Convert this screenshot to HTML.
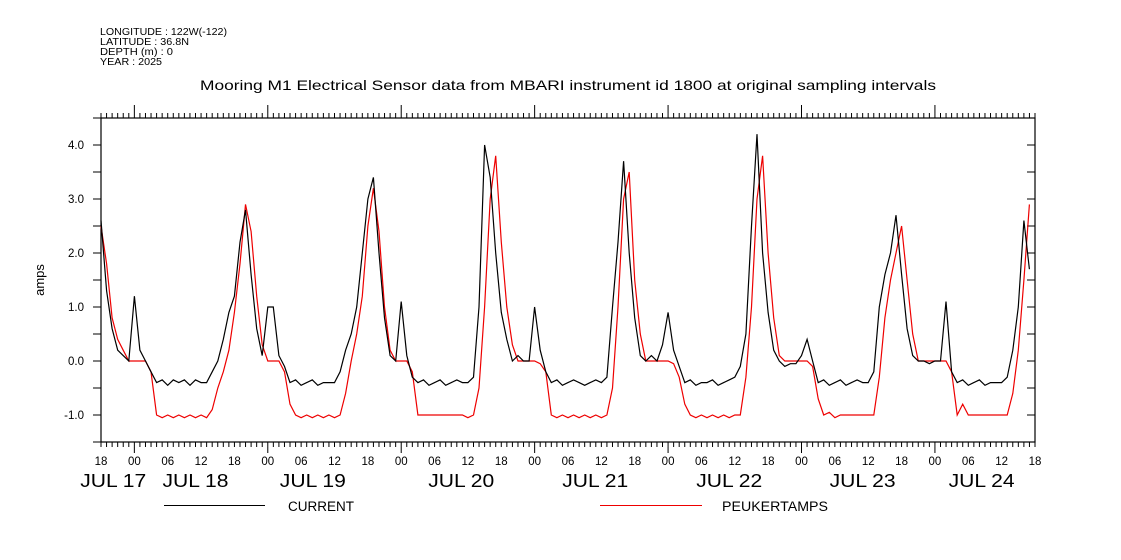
<!DOCTYPE html>
<html><head><meta charset="utf-8"><style>
html,body{margin:0;padding:0;background:#fff;}
svg{display:block;font-family:"Liberation Sans","DejaVu Sans",sans-serif;}
</style></head><body>
<svg id="chart" width="1121" height="560" viewBox="0 0 1121 560" xmlns="http://www.w3.org/2000/svg">
<rect width="1121" height="560" fill="#fff"/>
<g font-size="10" fill="#000">
<text x="100" y="35" textLength="127" lengthAdjust="spacingAndGlyphs">LONGITUDE : 122W(-122)</text>
<text x="100" y="45" textLength="89" lengthAdjust="spacingAndGlyphs">LATITUDE : 36.8N</text>
<text x="100" y="55" textLength="73" lengthAdjust="spacingAndGlyphs">DEPTH (m) : 0</text>
<text x="100" y="65" textLength="62" lengthAdjust="spacingAndGlyphs">YEAR : 2025</text>
</g>
<text x="200" y="90" font-size="14" textLength="736" lengthAdjust="spacingAndGlyphs" fill="#000">Mooring M1 Electrical Sensor data from MBARI instrument id 1800 at original sampling intervals</text>
<text transform="translate(44,280) rotate(-90)" font-size="13" text-anchor="middle" fill="#000">amps</text>
<g id="axes"></g>
<g id="series"></g>
<g>
<line x1="164" y1="505.5" x2="265" y2="505.5" stroke="#000" stroke-width="1"/>
<text x="288" y="511" font-size="13.5" textLength="66" lengthAdjust="spacingAndGlyphs" fill="#000">CURRENT</text>
<line x1="600" y1="505.5" x2="702" y2="505.5" stroke="#e00" stroke-width="1"/>
<text x="722" y="511" font-size="13.5" textLength="106" lengthAdjust="spacingAndGlyphs" fill="#000">PEUKERTAMPS</text>
</g>
</svg>
<script>
// hours since JUL 17 18:00
const current = [
2.6,1.3,0.6,0.2,0.1,0.0,1.2,0.2,0.0,-0.2,-0.4,-0.35,-0.45,-0.35,-0.4,-0.35,-0.45,-0.35,-0.4,-0.4,-0.2,0.0,0.4,0.9,
1.2,2.2,2.8,1.6,0.6,0.1,1.0,1.0,0.1,-0.1,-0.4,-0.35,-0.45,-0.4,-0.35,-0.45,-0.4,-0.4,-0.4,-0.2,0.2,0.5,1.0,2.0,
3.0,3.4,2.0,0.8,0.1,0.0,1.1,0.1,-0.3,-0.4,-0.35,-0.45,-0.4,-0.35,-0.45,-0.4,-0.35,-0.4,-0.4,-0.3,1.0,4.0,3.4,2.0,
0.9,0.4,0.0,0.1,0.0,0.0,1.0,0.2,-0.2,-0.4,-0.35,-0.45,-0.4,-0.35,-0.4,-0.45,-0.4,-0.35,-0.4,-0.3,1.0,2.2,3.7,2.0,
0.8,0.1,0.0,0.1,0.0,0.3,0.9,0.2,-0.1,-0.4,-0.35,-0.45,-0.4,-0.4,-0.35,-0.45,-0.4,-0.35,-0.3,-0.1,0.5,2.5,4.2,2.0,
0.9,0.2,0.0,-0.1,-0.05,-0.05,0.1,0.4,0.0,-0.4,-0.35,-0.45,-0.4,-0.35,-0.45,-0.4,-0.35,-0.4,-0.4,-0.2,1.0,1.6,2.0,2.7,
1.6,0.6,0.1,0.0,0.0,-0.05,0.0,0.0,1.1,-0.2,-0.4,-0.35,-0.45,-0.4,-0.35,-0.45,-0.4,-0.4,-0.4,-0.3,0.2,1.0,2.6,1.7
];
const peukert = [
2.5,1.8,0.8,0.4,0.2,0.0,0.0,0.0,0.0,-0.2,-1.0,-1.05,-1.0,-1.05,-1.0,-1.05,-1.0,-1.05,-1.0,-1.05,-0.9,-0.5,-0.2,0.2,
0.9,1.8,2.9,2.4,1.2,0.3,0.0,0.0,0.0,-0.2,-0.8,-1.0,-1.05,-1.0,-1.05,-1.0,-1.05,-1.0,-1.05,-1.0,-0.6,0.0,0.5,1.2,
2.5,3.2,2.4,1.0,0.2,0.0,0.0,0.0,-0.2,-1.0,-1.0,-1.0,-1.0,-1.0,-1.0,-1.0,-1.0,-1.0,-1.05,-1.0,-0.5,1.0,3.0,3.8,
2.2,1.0,0.3,0.0,0.0,0.0,0.0,-0.05,-0.2,-1.0,-1.05,-1.0,-1.05,-1.0,-1.05,-1.0,-1.05,-1.0,-1.05,-1.0,-0.5,1.0,3.0,3.5,
1.5,0.5,0.0,0.0,0.0,0.0,0.0,-0.05,-0.3,-0.8,-1.0,-1.05,-1.0,-1.05,-1.0,-1.05,-1.0,-1.05,-1.0,-1.0,-0.3,1.0,3.0,3.8,
2.0,0.8,0.1,0.0,0.0,0.0,0.0,0.0,-0.1,-0.7,-1.0,-0.95,-1.05,-1.0,-1.0,-1.0,-1.0,-1.0,-1.0,-1.0,-0.3,0.8,1.5,2.0,
2.5,1.5,0.5,0.0,0.0,0.0,0.0,0.0,0.0,-0.2,-1.0,-0.8,-1.0,-1.0,-1.0,-1.0,-1.0,-1.0,-1.0,-1.0,-0.6,0.2,1.5,2.9
];
const yTicks = [-1.5,-1.0,-0.5,0.0,0.5,1.0,1.5,2.0,2.5,3.0,3.5,4.0,4.5];
const yLabels = ["-1.0","0.0","1.0","2.0","3.0","4.0"];
const hourLabels = ["18","00","06","12","18","00","06","12","18","00","06","12","18","00","06","12","18","00","06","12","18","00","06","12","18","00","06","12","18"];
const dateLabels = ["JUL 17","JUL 18","JUL 19","JUL 20","JUL 21","JUL 22","JUL 23","JUL 24"];
const dateHours = [2.2,17,38.1,64.8,88.9,113,137,158.4];

const X0=101, X1=1035, Y0=442, Y1=118, H=168;
const xs = h => X0 + (X1-X0)*h/H;
const ys = v => Y0 - (v+1.5)*(Y0-Y1)/6;
const NS="http://www.w3.org/2000/svg";
const axes=document.getElementById('axes');
const series=document.getElementById('series');
function mk(tag, attrs, parent){const e=document.createElementNS(NS,tag);for(const k in attrs)e.setAttribute(k,attrs[k]);parent.appendChild(e);return e;}

const frame=mk('rect',{x:X0,y:Y1,width:X1-X0,height:Y0-Y1,fill:'none',stroke:'#000','stroke-width':1.2},axes);



for(let h=0;h<=H;h+=1){
  const x=xs(h); const major=(h-6)%24===0;
  const t1=mk('line',{x1:x,y1:Y1,x2:x,y2:Y1-(major?13:5),stroke:'#000','stroke-width':1},axes);
  
  
  const t2=mk('line',{x1:x,y1:Y0,x2:x,y2:Y0+(major?11:5),stroke:'#000','stroke-width':1},axes);
  
  
}
yTicks.forEach(v=>{
  const y=ys(v);
  const a=mk('line',{x1:X0-8,y1:y,x2:X0,y2:y,stroke:'#000','stroke-width':1},axes);
  
  
  const b=mk('line',{x1:X1-8,y1:y,x2:X1,y2:y,stroke:'#000','stroke-width':1},axes);
  
  
});
yLabels.forEach(s=>{
  const t=mk('text',{x:84,y:ys(parseFloat(s))+4,'font-size':11.5,'text-anchor':'end',fill:'#000'},axes);
  t.textContent=s;
  
  
});
hourLabels.forEach((s,i)=>{
  const t=mk('text',{x:xs(i*6),y:465,'font-size':11.5,'text-anchor':'middle',fill:'#000'},axes);
  t.textContent=s;
  
  
});
dateLabels.forEach((s,i)=>{
  const t=mk('text',{x:xs(dateHours[i])-33,y:487,'font-size':18,textLength:66,lengthAdjust:'spacingAndGlyphs',fill:'#000'},axes);
  t.textContent=s;
  
  
});
function draw(arr,color,name){
  const pts=arr.map((v,i)=>xs(i).toFixed(1)+','+ys(v).toFixed(1)).join(' ');
  const p=mk('polyline',{points:pts,fill:'none',stroke:color,'stroke-width':1.2},series);
  
  
}
draw(peukert,'#e00','peukert-line');
draw(current,'#000','current-line');
</script>
</body></html>
